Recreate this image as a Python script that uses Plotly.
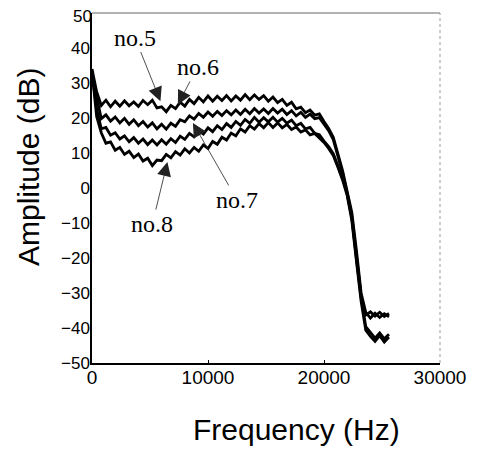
import plotly.graph_objects as go

# frequency grid (Hz) and amplitudes (dB)
freq = [0, 400, 800, 1200, 1600, 2000, 2400, 2800, 3200, 3600,
        4000, 4400, 4800, 5200, 5600, 6000, 6400, 6800, 7200, 7600,
        8000, 8400, 8800, 9200, 9600, 10000, 10400, 10800, 11200, 11600,
        12000, 12400, 12800, 13200, 13600, 14000, 14400, 14800, 15200, 15600,
        16000, 16400, 16800, 17200, 17600, 18000, 18400, 18800, 19200, 19600,
        20000, 20400, 20800, 21200, 21600, 22000, 22400, 22800, 23200, 23600,
        24000, 24400, 24800, 25200, 25600]

no5 = [34.0, 27.5, 23.6, 25.1, 23.2, 24.8, 23.4, 24.9, 23.5, 24.6,
       23.3, 25.0, 23.8, 25.1, 22.9, 23.2, 21.8, 23.6, 22.7, 24.5,
       23.4, 25.3, 24.1, 25.9, 24.6, 26.3, 24.8, 26.2, 25.0, 26.4,
       24.9, 26.3, 25.1, 26.7, 25.2, 26.6, 25.3, 26.4, 24.8, 26.0,
       24.4, 25.3, 23.6, 24.5, 22.6, 23.1, 21.5, 22.3, 20.8, 21.2,
       19.0, 17.0, 14.5, 10.0, 5.0, -1.0, -7.0, -18.0, -30.0, -35.5,
       -37.2, -35.8, -37.0, -35.9, -36.8]

no6 = [32.5, 25.6, 19.8, 20.9, 19.1, 20.3, 18.6, 19.9, 18.2, 19.5,
       17.8, 19.0, 17.4, 18.6, 16.9, 18.2, 16.8, 18.5, 17.6, 19.5,
       18.9, 20.6, 19.7, 21.3, 20.2, 21.7, 20.5, 21.9, 20.7, 22.1,
       20.9, 22.3, 21.0, 22.5, 21.2, 22.7, 21.4, 22.6, 21.3, 22.7,
       21.4, 22.5, 21.0, 22.1, 20.6, 21.6, 20.2, 21.1, 19.8, 20.1,
       18.3, 16.4, 13.8, 9.4, 4.3, -1.6, -8.2, -19.3, -31.0, -36.3,
       -35.4, -36.6, -35.5, -36.7, -35.8]

no7 = [33.0, 22.6, 16.9, 17.3, 15.1, 15.8, 14.0, 14.9, 13.2, 14.4,
       12.8, 14.0, 12.4, 13.7, 12.3, 13.8, 12.5, 14.1, 13.0, 14.8,
       13.9, 15.6, 14.6, 16.4, 15.4, 17.2, 16.1, 17.8, 16.7, 18.4,
       17.3, 19.0, 17.9, 19.6, 18.5, 20.2, 18.8, 20.1, 18.9, 20.2,
       18.8, 19.9, 18.5, 19.4, 17.8, 18.5, 16.9, 17.3, 15.6, 15.2,
       13.4, 11.8, 9.8, 6.4, 2.8, -1.6, -8.5, -20.2, -31.3, -39.6,
       -41.2, -42.9, -41.4, -43.1, -41.8]

no8 = [33.5, 20.4, 15.8, 12.8, 13.2, 10.8, 11.6, 9.6, 10.5, 8.7,
       9.7, 7.7, 8.5, 6.4, 8.0, 7.8, 9.6, 8.6, 10.4, 9.4,
       11.2, 10.0, 11.6, 10.5, 12.3, 11.3, 13.3, 12.5, 14.5, 13.7,
       15.7, 14.9, 16.9, 16.0, 17.8, 16.8, 18.4, 17.2, 18.7, 17.3,
       18.6, 17.2, 18.2, 16.7, 17.4, 16.0, 16.6, 15.2, 15.6, 14.3,
       13.0, 11.3, 9.3, 5.9, 2.3, -2.2, -9.3, -21.0, -32.4, -40.6,
       -42.4, -43.8, -42.2, -44.0, -42.6]

series = {"no.5": no5, "no.6": no6, "no.7": no7, "no.8": no8}

# label: (text x, text y, arrow tip x, arrow tip y)
labels = {
    "no.5": (3700, 43.0, 5900, 24.8),
    "no.6": (9100, 34.6, 7400, 23.8),
    "no.7": (12500, -3.4, 8700, 18.6),
    "no.8": (5200, -10.3, 6500, 7.4),
}

x_ticks = [0, 10000, 20000, 30000]
y_ticks = [50, 40, 30, 20, 10, 0, -10, -20, -30, -40, -50]

fig = go.Figure()
for name, vals in series.items():
    fig.add_trace(go.Scatter(x=freq, y=vals, mode="lines", name=name,
                             line=dict(color="black", width=2.8)))

for name, (tx, ty, ax_, ay_) in labels.items():
    fig.add_annotation(x=ax_, y=ay_, ax=tx, ay=ty, axref="x", ayref="y",
                       text=name, showarrow=True, arrowhead=2, arrowsize=3.5,
                       arrowwidth=0.8, arrowcolor="#222",
                       font=dict(family="Liberation Serif", size=24, color="black"),
                       bgcolor="rgba(0,0,0,0)")

# light frame on top and right
fig.add_shape(type="line", xref="paper", yref="paper", x0=0, x1=1, y0=1, y1=1,
              line=dict(color="#666", width=1))
fig.add_shape(type="line", xref="paper", yref="paper", x0=1, x1=1, y0=0, y1=1,
              line=dict(color="#999", width=1, dash="dot"))

# the top tick label sits at the page edge, plotly would drop it
fig.add_annotation(text=str(y_ticks[0]), xref="paper", yref="y", x=0, y=y_ticks[0],
                   xanchor="right", yanchor="middle", showarrow=False,
                   xshift=2, yshift=-3,
                   font=dict(family="Liberation Sans", size=17, color="black"))

fig.add_annotation(text="Amplitude (dB)", xref="paper", yref="paper",
                   x=-0.181, y=0.56, textangle=-90, showarrow=False,
                   xanchor="center", yanchor="middle",
                   font=dict(family="Liberation Sans", size=30, color="black"))
fig.add_annotation(text="Frequency (Hz)", xref="paper", yref="paper",
                   x=0.589, y=-0.191, showarrow=False,
                   xanchor="center", yanchor="middle",
                   font=dict(family="Liberation Sans", size=30, color="black"))

fig.update_xaxes(range=[0, 30000], tickvals=x_ticks, ticktext=[str(v) for v in x_ticks],
                 showgrid=False, zeroline=False, showline=True, linecolor="black",
                 linewidth=1.5, ticks="inside", ticklen=3, tickcolor="black",
                 ticklabelstandoff=-4,
                 tickfont=dict(family="Liberation Sans", size=19, color="black"))
fig.update_yaxes(range=[-50, 50], tickvals=y_ticks,
                 ticktext=[str(v).replace("-", "\u2212") for v in y_ticks],
                 showgrid=False, zeroline=False, showline=True, linecolor="black",
                 linewidth=1.5, ticks="", ticklabelstandoff=-3,
                 tickfont=dict(family="Liberation Sans", size=17, color="black"))

fig.update_layout(width=482, height=459, showlegend=False,
                  plot_bgcolor="white", paper_bgcolor="white",
                  margin=dict(l=84, r=50, t=5, b=104))

fig.write_html("out.html")
